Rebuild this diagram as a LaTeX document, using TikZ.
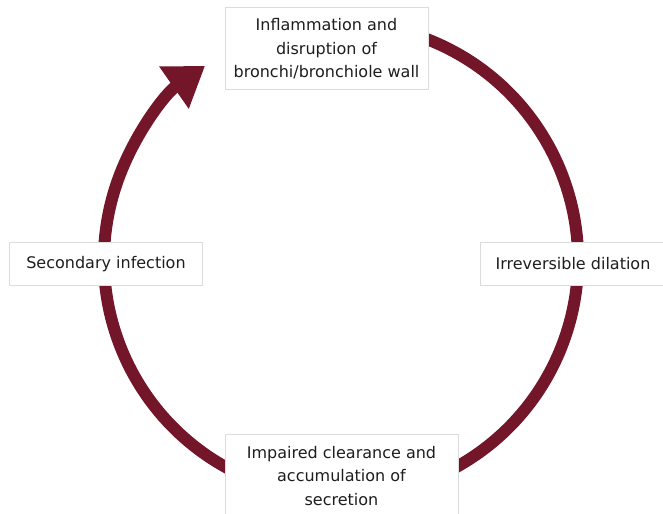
\documentclass[tikz,border=0pt]{standalone}
\usepackage{fontspec}
\setmainfont{DejaVu Sans}
\usetikzlibrary{arrows.meta}
\definecolor{cyclered}{RGB}{116,22,42}
\definecolor{boxgray}{RGB}{220,220,220}
\definecolor{textgray}{RGB}{30,30,30}
\begin{document}
\begin{tikzpicture}[x=1bp,y=-1bp,
  box/.style={draw=boxgray, fill=white, line width=1bp, align=center,
    font=\fontsize{16bp}{23.5bp}\selectfont, text=textgray, inner sep=0pt}]
\useasboundingbox (0,0) rectangle (663,514);
\coordinate (c) at (341,260);
\draw[cyclered, line width=12bp, -{Triangle[length=38bp,width=49bp]}]
  ([shift={(70:237bp)}]c) arc[start angle=70, end angle=-235, radius=237bp];
\node[box, minimum width=203bp, minimum height=82bp] (top) at (326.5,49)
  {Inflammation and\\disruption of\\bronchi/bronchiole wall};
\node[box, minimum width=192bp, minimum height=42bp] (left) at (106,264)
  {Secondary infection};
\node[box, minimum width=186bp, minimum height=42bp] (right) at (573,264)
  {Irreversible dilation};
\node[box, minimum width=233bp, minimum height=84bp] (bottom) at (341.5,476)
  {Impaired clearance and\\accumulation of\\secretion};
\end{tikzpicture}
\end{document}
